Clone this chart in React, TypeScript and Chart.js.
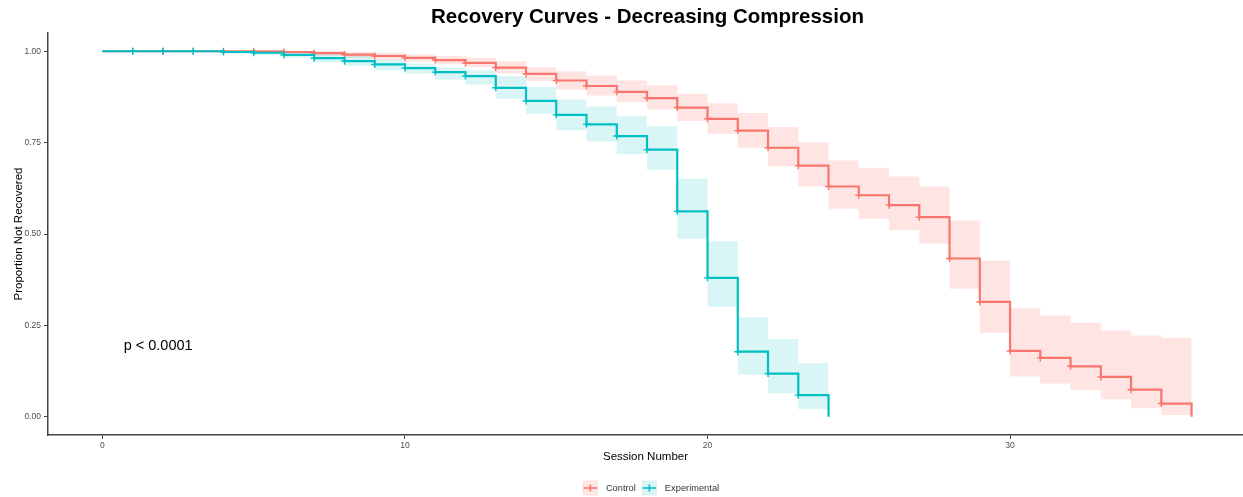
import React, { useEffect, useRef } from 'react';
import { Chart, registerables } from 'chart.js';

Chart.register(...registerables);

const FONT = "'Liberation Sans', Arial, Helvetica, sans-serif";

// ---- Data ----
const controlSessions = [0, 1, 2, 3, 4, 5, 6, 7, 8, 9, 10, 11, 12, 13, 14, 15, 16, 17, 18, 19, 20, 21, 22, 23, 24, 25, 26, 27, 28, 29, 30, 31, 32, 33, 34, 35, 36];
const controlSurv = [1.0, 1.0, 1.0, 1.0, 1.0, 1.0, 0.998, 0.995, 0.991, 0.987, 0.982, 0.976, 0.968, 0.955, 0.938, 0.92, 0.905, 0.889, 0.872, 0.846, 0.815, 0.783, 0.736, 0.687, 0.63, 0.606, 0.579, 0.546, 0.433, 0.314, 0.18, 0.161, 0.138, 0.109, 0.074, 0.036, 0.0];
const controlUpper = [1.0, 1.0, 1.0, 1.0, 1.0, 1.0, 1.0, 1.0, 0.998, 0.996, 0.992, 0.987, 0.982, 0.973, 0.957, 0.945, 0.934, 0.92, 0.907, 0.884, 0.858, 0.831, 0.793, 0.751, 0.701, 0.681, 0.657, 0.63, 0.537, 0.427, 0.297, 0.277, 0.257, 0.236, 0.222, 0.216, 0.216];
const controlLower = [1.0, 1.0, 1.0, 1.0, 1.0, 0.998, 0.993, 0.988, 0.982, 0.977, 0.972, 0.966, 0.957, 0.939, 0.919, 0.895, 0.879, 0.861, 0.841, 0.809, 0.774, 0.736, 0.685, 0.63, 0.569, 0.542, 0.511, 0.474, 0.35, 0.229, 0.11, 0.091, 0.073, 0.048, 0.023, 0.005, 0.005];

const expSessions = [0, 1, 2, 3, 4, 5, 6, 7, 8, 9, 10, 11, 12, 13, 14, 15, 16, 17, 18, 19, 20, 21, 22, 23, 24];
const expSurv = [1.0, 1.0, 1.0, 1.0, 0.998, 0.996, 0.99, 0.981, 0.973, 0.964, 0.954, 0.943, 0.932, 0.9, 0.864, 0.826, 0.8, 0.768, 0.731, 0.562, 0.38, 0.178, 0.118, 0.059, 0.0];
const expUpper = [1.0, 1.0, 1.0, 1.0, 1.0, 1.0, 0.998, 0.993, 0.987, 0.978, 0.966, 0.956, 0.948, 0.932, 0.902, 0.868, 0.849, 0.822, 0.795, 0.651, 0.48, 0.272, 0.213, 0.146, 0.146];
const expLower = [1.0, 1.0, 1.0, 1.0, 0.994, 0.99, 0.982, 0.97, 0.96, 0.948, 0.939, 0.922, 0.909, 0.87, 0.829, 0.784, 0.753, 0.718, 0.676, 0.487, 0.301, 0.115, 0.064, 0.021, 0.021];

const seriesLabels = ['Control', 'Experimental'];
const lineColors = ['#F8766D', '#00BFC4'];
const bandColors = ['rgba(248,118,109,0.2)', 'rgba(0,191,196,0.15)'];

const xTickValues = [0, 10, 20, 30];
const yTickValues = [0, 0.25, 0.5, 0.75, 1.0];

const titleText = 'Recovery Curves - Decreasing Compression';
const xTitle = 'Session Number';
const yTitle = 'Proportion Not Recovered';
const pValueText = 'p < 0.0001';
const pValueAt = { x: 0.7, y: 0.193 };

const toPoints = (xs: number[], ys: number[]) => xs.map((x, i) => ({ x, y: ys[i] }));

const titlePlugin = {
  id: 'plotTitle',
  afterDraw(chart: any) {
    const { ctx, chartArea } = chart;
    ctx.save();
    ctx.font = `bold 20.5px ${FONT}`;
    ctx.fillStyle = '#000';
    ctx.textAlign = 'center';
    ctx.textBaseline = 'middle';
    ctx.fillText(titleText, (chartArea.left + chartArea.right) / 2 + 2, 17);
    ctx.restore();
  },
};

const pValuePlugin = {
  id: 'pValueText',
  afterDraw(chart: any) {
    const { ctx, scales } = chart;
    ctx.save();
    ctx.font = `14.5px ${FONT}`;
    ctx.fillStyle = '#000';
    ctx.textAlign = 'left';
    ctx.textBaseline = 'middle';
    ctx.fillText(pValueText, scales.x.getPixelForValue(pValueAt.x), scales.y.getPixelForValue(pValueAt.y));
    ctx.restore();
  },
};

const legendPlugin = {
  id: 'kmLegend',
  afterDraw(chart: any) {
    const { ctx } = chart;
    ctx.save();
    ctx.font = `9.3px ${FONT}`;
    const key = 15;
    const keyGap = 8;
    const itemGap = 6;
    const widths = seriesLabels.map((l) => ctx.measureText(l).width);
    const total = widths.reduce((a, w) => a + key + keyGap + w, 0) + itemGap * (seriesLabels.length - 1);
    const centerX = 651;
    const y = 488;
    let x = centerX - total / 2;
    seriesLabels.forEach((label, i) => {
      ctx.fillStyle = bandColors[i];
      ctx.fillRect(x, y - key / 2, key, key);
      ctx.strokeStyle = lineColors[i];
      ctx.lineWidth = 1.6;
      ctx.beginPath();
      ctx.moveTo(x + 0.5, y);
      ctx.lineTo(x + key - 0.5, y);
      ctx.moveTo(x + key / 2, y - 3.5);
      ctx.lineTo(x + key / 2, y + 3.5);
      ctx.stroke();
      ctx.fillStyle = '#333';
      ctx.textAlign = 'left';
      ctx.textBaseline = 'middle';
      ctx.fillText(label, x + key + keyGap, y);
      x += key + keyGap + widths[i] + itemGap;
    });
    ctx.restore();
  },
};

export default function App() {
  const canvasRef = useRef<HTMLCanvasElement | null>(null);

  useEffect(() => {
    if (!canvasRef.current) return;
    Chart.defaults.font.family = FONT;

    const crossRadius = (n: number) => (ctx: any) => (ctx.dataIndex === 0 || ctx.dataIndex === n - 1 ? 0 : 3.5);

    const chart = new Chart(canvasRef.current, {
      type: 'line',
      data: {
        datasets: [
          {
            label: 'Control upper',
            data: toPoints(controlSessions, controlUpper),
            stepped: true,
            borderWidth: 0,
            borderColor: 'rgba(0,0,0,0)',
            pointRadius: 0,
            fill: false,
            order: 10,
          },
          {
            label: 'Control lower',
            data: toPoints(controlSessions, controlLower),
            stepped: true,
            borderWidth: 0,
            borderColor: 'rgba(0,0,0,0)',
            pointRadius: 0,
            backgroundColor: bandColors[0],
            fill: 0,
            order: 10,
          },
          {
            label: 'Experimental upper',
            data: toPoints(expSessions, expUpper),
            stepped: true,
            borderWidth: 0,
            borderColor: 'rgba(0,0,0,0)',
            pointRadius: 0,
            fill: false,
            order: 9,
          },
          {
            label: 'Experimental lower',
            data: toPoints(expSessions, expLower),
            stepped: true,
            borderWidth: 0,
            borderColor: 'rgba(0,0,0,0)',
            pointRadius: 0,
            backgroundColor: bandColors[1],
            fill: 2,
            order: 9,
          },
          {
            label: seriesLabels[0],
            data: toPoints(controlSessions, controlSurv),
            stepped: true,
            borderColor: lineColors[0],
            borderWidth: 2.2,
            pointStyle: 'cross',
            pointRadius: crossRadius(controlSessions.length),
            pointBorderColor: lineColors[0],
            pointBorderWidth: 1.4,
            fill: false,
            order: 2,
          },
          {
            label: seriesLabels[1],
            data: toPoints(expSessions, expSurv),
            stepped: true,
            borderColor: lineColors[1],
            borderWidth: 2.2,
            pointStyle: 'cross',
            pointRadius: crossRadius(expSessions.length),
            pointBorderColor: lineColors[1],
            pointBorderWidth: 1.4,
            fill: false,
            order: 1,
          },
        ],
      },
      options: {
        responsive: false,
        animation: false,
        events: [],
        layout: { padding: { top: 33, right: 0, bottom: 30, left: 0 } },
        plugins: {
          legend: { display: false },
          tooltip: { enabled: false },
          title: { display: false },
        },
        scales: {
          x: {
            type: 'linear',
            min: -1.8,
            max: 37.7,
            afterBuildTicks: (scale: any) => {
              scale.ticks = xTickValues.map((v) => ({ value: v }));
            },
            afterFit: (scale: any) => {
              scale.height = 32;
            },
            ticks: {
              color: '#4D4D4D',
              font: { size: 8.5, family: FONT },
              padding: 2,
              maxRotation: 0,
              callback: (v: any) => String(v),
            },
            grid: { display: true, drawOnChartArea: false, drawTicks: true, tickLength: 4, color: '#444', lineWidth: 1 },
            border: { display: true, color: '#444', width: 1.5 },
            title: {
              display: true,
              text: xTitle,
              color: '#000',
              font: { size: 11.5, family: FONT },
              padding: { top: 0, bottom: 3 },
            },
          },
          y: {
            type: 'linear',
            min: -0.05,
            max: 1.05,
            afterBuildTicks: (scale: any) => {
              scale.ticks = yTickValues.map((v) => ({ value: v }));
            },
            afterFit: (scale: any) => {
              scale.width = 48;
            },
            ticks: {
              color: '#4D4D4D',
              font: { size: 8.5, family: FONT },
              padding: 3,
              callback: (v: any) => Number(v).toFixed(2),
            },
            grid: { display: true, drawOnChartArea: false, drawTicks: true, tickLength: 4, color: '#444', lineWidth: 1 },
            border: { display: true, color: '#444', width: 1.5 },
            title: {
              display: true,
              text: yTitle,
              color: '#000',
              font: { size: 11.5, family: FONT },
              padding: { top: 12, bottom: 0 },
            },
          },
        },
      },
      plugins: [titlePlugin, pValuePlugin, legendPlugin],
    } as any);

    return () => chart.destroy();
  }, []);

  return (
    <div style={{ position: 'absolute', left: 0, top: 0, width: 1243, height: 497, background: '#fff', overflow: 'hidden' }}>
      <canvas ref={canvasRef} width={1243} height={497} style={{ display: 'block' }} />
    </div>
  );
}
